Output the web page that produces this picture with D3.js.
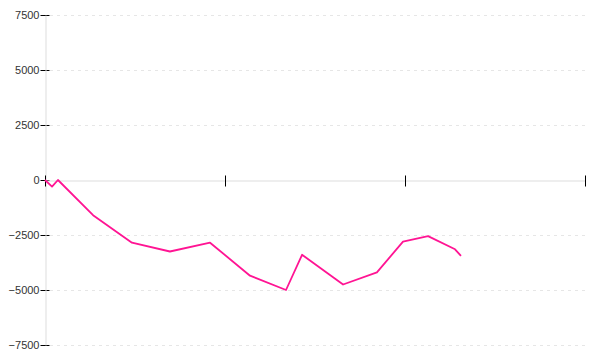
<!DOCTYPE html>
<html>
<head>
<meta charset="utf-8">
<script src="https://cdn.jsdelivr.net/npm/d3@7"></script>
<style>
  body { margin: 0; background: #fff; }
  svg { display: block; }
  .tick text { font-family: "Liberation Sans", Arial, sans-serif; font-size: 11px; fill: #333; }
</style>
</head>
<body>
<svg id="chart" width="600" height="360"></svg>
<script>
// x in axis units (no labels on x axis), y in value units
const xValues = [0, 0.039, 0.072, 0.267, 0.483, 0.694, 0.917, 1.139, 1.339, 1.428, 1.656, 1.844, 1.989, 2.128, 2.278, 2.311];
const yValues = [0, -300, 0, -1600, -2850, -3250, -2850, -4350, -5000, -3400, -4750, -4200, -2800, -2550, -3150, -3450];
const yTicks = [-7500, -5000, -2500, 0, 2500, 5000, 7500];
const xTicks = [0, 1, 2, 3];

const width = 600, height = 360;
const margin = { left: 45, right: 15, top: 15, bottom: 15 };

const svg = d3.select('#chart');

const x = d3.scaleLinear().domain([0, 3]).range([margin.left, width - margin.right]);
const y = d3.scaleLinear().domain([-7500, 7500]).range([height - margin.bottom, margin.top]);

// dashed grid lines (not at zero, x axis sits there)
svg.append('g')
  .selectAll('line')
  .data(yTicks.filter(d => d !== 0))
  .join('line')
  .attr('x1', x(0) + 5)
  .attr('x2', x(3))
  .attr('y1', d => y(d) + 0.5)
  .attr('y2', d => y(d) + 0.5)
  .attr('stroke', '#e6e6e6')
  .attr('stroke-dasharray', '3,4');

// y axis
let yAxis = svg.append('g')
  .attr('transform', `translate(${margin.left + 0.5},0)`)
  .call(d3.axisLeft(y).tickValues(yTicks).tickSize(5).tickSizeOuter(0).tickPadding(1).tickFormat(d3.format('d')));
yAxis.selectAll('.tick line').attr('x1', 4).attr('x2', -5).attr('stroke', '#000');
yAxis.selectAll('.tick text').text(d => d < 0 ? '\u2212' + Math.abs(d) : d);
yAxis.select('.domain').attr('stroke', '#ddd').raise();

// x axis at zero
let xAxis = svg.append('g')
  .attr('transform', `translate(0,${y(0) + 0.5})`)
  .call(d3.axisBottom(x).tickValues(xTicks).tickSize(6).tickSizeOuter(0).tickFormat(''));
xAxis.select('.domain').attr('stroke', '#ddd').lower();
xAxis.selectAll('.tick line').attr('y1', -5).attr('y2', 6).attr('stroke', '#000');

// series
const points = xValues.map((v, i) => [v, yValues[i]]);
const line = d3.line().x(d => x(d[0])).y(d => y(d[1]));

svg.append('path')
  .datum(points)
  .attr('d', line)
  .attr('fill', 'none')
  .attr('stroke', '#ff1493')
  .attr('stroke-width', 1.8)
  .attr('stroke-linejoin', 'round');
</script>
</body>
</html>
